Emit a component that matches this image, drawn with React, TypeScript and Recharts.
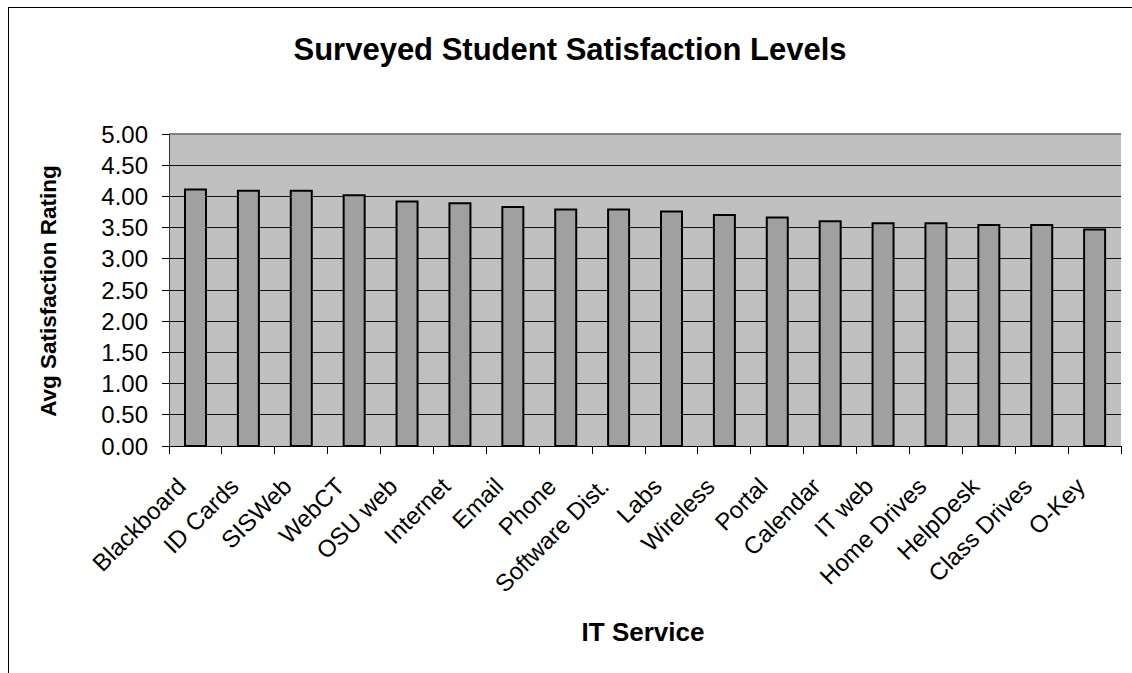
import { BarChart, Bar, XAxis, YAxis, CartesianGrid, ReferenceLine } from 'recharts';

const services = [
  'Blackboard', 'ID Cards', 'SISWeb', 'WebCT', 'OSU web', 'Internet', 'Email', 'Phone',
  'Software Dist.', 'Labs', 'Wireless', 'Portal', 'Calendar', 'IT web', 'Home Drives',
  'HelpDesk', 'Class Drives', 'O-Key',
];
const avgRatings = [
  4.11, 4.09, 4.09, 4.02, 3.92, 3.89, 3.83, 3.79,
  3.79, 3.76, 3.70, 3.66, 3.60, 3.57, 3.57,
  3.54, 3.54, 3.47,
];
const ratingTicks = [0, 0.5, 1, 1.5, 2, 2.5, 3, 3.5, 4, 4.5, 5];

const data = services.map((name, i) => ({ name, rating: avgRatings[i] }));

const W = 1132;
const H = 673;
const PLOT_LEFT = 169;
const PLOT_RIGHT = 1121;
const PLOT_TOP = 134;
const PLOT_BOTTOM = 446;
const BAND = (PLOT_RIGHT - PLOT_LEFT) / services.length;
const FONT = '"Liberation Sans", Arial, sans-serif';

// category labels sit under the bars, tick marks fall between categories
function ServiceTick(props: any) {
  const { x, y, payload, index } = props;
  const half = BAND / 2;
  return (
    <g>
      <line x1={x - half} y1={y} x2={x - half} y2={y + 8} stroke="#000" shapeRendering="crispEdges" />
      {index === services.length - 1 && (
        <line x1={x + half} y1={y} x2={x + half} y2={y + 8} stroke="#000" shapeRendering="crispEdges" />
      )}
      <text
        transform={`translate(${x - 8},${y + 42}) rotate(-45)`}
        textAnchor="end"
        fontSize={24}
        fill="#000"
        fontFamily={FONT}
      >
        {payload.value}
      </text>
    </g>
  );
}

export default function App() {
  return (
    <div style={{ position: 'fixed', left: 0, top: 0, width: W, height: H, overflow: 'hidden', background: '#fff', fontFamily: FONT }}>
      <div style={{ position: 'absolute', left: 8, top: 7, width: W, height: H, borderLeft: '1px solid #000', borderTop: '1px solid #000' }} />
      <div style={{ position: 'absolute', left: 170, top: 35, width: 800, textAlign: 'center', fontSize: 31, lineHeight: '30px', fontWeight: 'bold' }}>
        Surveyed Student Satisfaction Levels
      </div>
      <div style={{ position: 'absolute', left: 49 - 200, top: 291 - 11, width: 400, textAlign: 'center', fontSize: 22.5, lineHeight: '22px', fontWeight: 'bold', transform: 'rotate(-90deg)' }}>
        Avg Satisfaction Rating
      </div>
      <div style={{ position: 'absolute', left: 443, top: 619, width: 400, textAlign: 'center', fontSize: 26, lineHeight: '26px', fontWeight: 'bold' }}>
        IT Service
      </div>
      <div style={{ position: 'absolute', left: 0, top: 0 }}>
        <BarChart
          width={W}
          height={H}
          data={data}
          margin={{ top: PLOT_TOP, right: W - PLOT_RIGHT, left: 0, bottom: 0 }}
          barSize={21}
        >
          <CartesianGrid vertical={false} stroke="#111" fill="#C0C0C0" fillOpacity={1} shapeRendering="crispEdges" />
          <XAxis
            dataKey="name"
            height={H - PLOT_BOTTOM}
            interval={0}
            tickLine={false}
            tickSize={0}
            tickMargin={0}
            axisLine={{ stroke: '#000', shapeRendering: 'crispEdges' }}
            tick={<ServiceTick />}
          />
          <YAxis
            width={PLOT_LEFT}
            domain={[0, 5]}
            ticks={ratingTicks}
            interval={0}
            tickFormatter={(v: number) => v.toFixed(2)}
            tickSize={7}
            tickMargin={14}
            tickLine={{ stroke: '#000', shapeRendering: 'crispEdges' }}
            axisLine={{ stroke: '#333', shapeRendering: 'crispEdges' }}
            tick={{ fontSize: 24, fill: '#000', fontFamily: FONT }}
          />
          <YAxis
            yAxisId="edge"
            orientation="right"
            width={0}
            domain={[0, 5]}
            tick={false}
            tickLine={false}
            axisLine={{ stroke: '#808080', strokeWidth: 2 }}
          />
          <ReferenceLine y={5} stroke="#808080" strokeWidth={2} />
          <Bar dataKey="rating" fill="#A0A0A0" stroke="#000" strokeWidth={2} isAnimationActive={false} />
        </BarChart>
      </div>
    </div>
  );
}
